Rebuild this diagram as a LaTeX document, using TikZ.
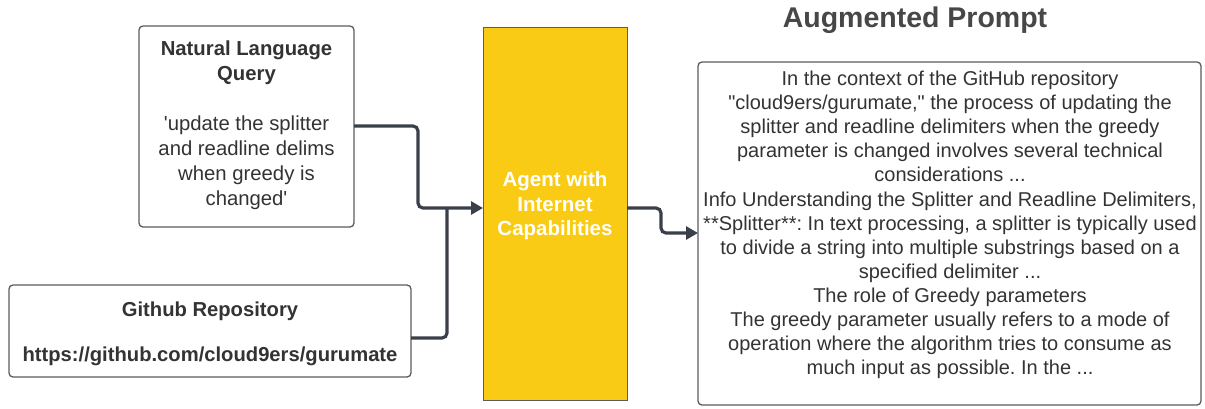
\documentclass[tikz,border=0pt]{standalone}
\usepackage{fontspec}
\setmainfont{Liberation Sans}[Ligatures=TeXOff]
\usetikzlibrary{arrows.meta,positioning}
\definecolor{linec}{HTML}{3A4049}
\definecolor{boxc}{HTML}{5C5C5C}
\definecolor{txtc}{HTML}{333333}
\definecolor{agentc}{HTML}{F9CB14}
\tikzset{
  box/.style={draw=boxc, line width=1.3pt, rounded corners=4pt, fill=white},
  conn/.style={draw=linec, line width=3.2pt, rounded corners=5pt, -{Triangle[length=12pt,width=13pt]}},
  connb/.style={draw=linec, line width=3.2pt, rounded corners=5pt},
  body/.style={text=txtc, font=\fontsize{20}{24.2}\selectfont, align=center, inner sep=0pt},
}
\frenchspacing
\begin{document}
\begin{tikzpicture}[x=1pt,y=-1pt]
\useasboundingbox (0,0) rectangle (1205,408);
% boxes
\draw[box] (139,26) rectangle (354,227);
\coordinate (nlR) at (354,126);
\draw[box] (9,285) rectangle (411,377);
\coordinate (ghR) at (411,338);
\fill[agentc] (483,27) rectangle (627,400);
\draw[boxc, line width=0.8pt] (483,27) rectangle (627,400);
\coordinate (agL) at (483,208);
\coordinate (agR) at (627,208);
\draw[box] (698,62) rectangle (1201,405);
\coordinate (prL) at (698,233);
% texts
\node[body, font=\bfseries\fontsize{20.3}{25}\selectfont] (nlt) at (246.5,63) {Natural Language\\Query};
\node[body, font=\fontsize{20.3}{25}\selectfont] (nlb) at (246.5,163) {'update the splitter\\and readline delims\\when greedy is\\changed'};
\node[body, font=\bfseries\fontsize{20.2}{24}\selectfont] (ght) at (210,311) {Github Repository};
\node[body, font=\bfseries\fontsize{20.2}{24}\selectfont] (ghb) at (210,356) {https://github.com/cloud9ers/gurumate};
\node[body, text=white, font=\bfseries\fontsize{20.5}{24.5}\selectfont] (agt) at (555,206) {Agent with\\Internet\\Capabilities};
\node[body, font=\bfseries\fontsize{28.5}{30}\selectfont, text=txtc!90!white] (title) at (915,20) {Augmented Prompt};
\node[body, font=\fontsize{20}{24.1}\selectfont] (prt) at (950,225) {In the context of the GitHub repository\\
"cloud9ers/gurumate," the process of updating the\\
splitter and readline delimiters when the greedy\\
parameter is changed involves several technical\\
considerations ...\\
Info Understanding the Splitter and Readline Delimiters,\\
**Splitter**: In text processing, a splitter is typically used\\
to divide a string into multiple substrings based on a\\
specified delimiter ...\\
The role of Greedy parameters\\
The greedy parameter usually refers to a mode of\\
operation where the algorithm tries to consume as\\
much input as possible. In the ...};
% connectors
\draw[conn] (nlR) -| (418,208) -- (agL);
\draw[connb] (ghR) -| (447,208);
\draw[conn] (agR) -| (661,233) -- (prL);
\end{tikzpicture}
\end{document}
